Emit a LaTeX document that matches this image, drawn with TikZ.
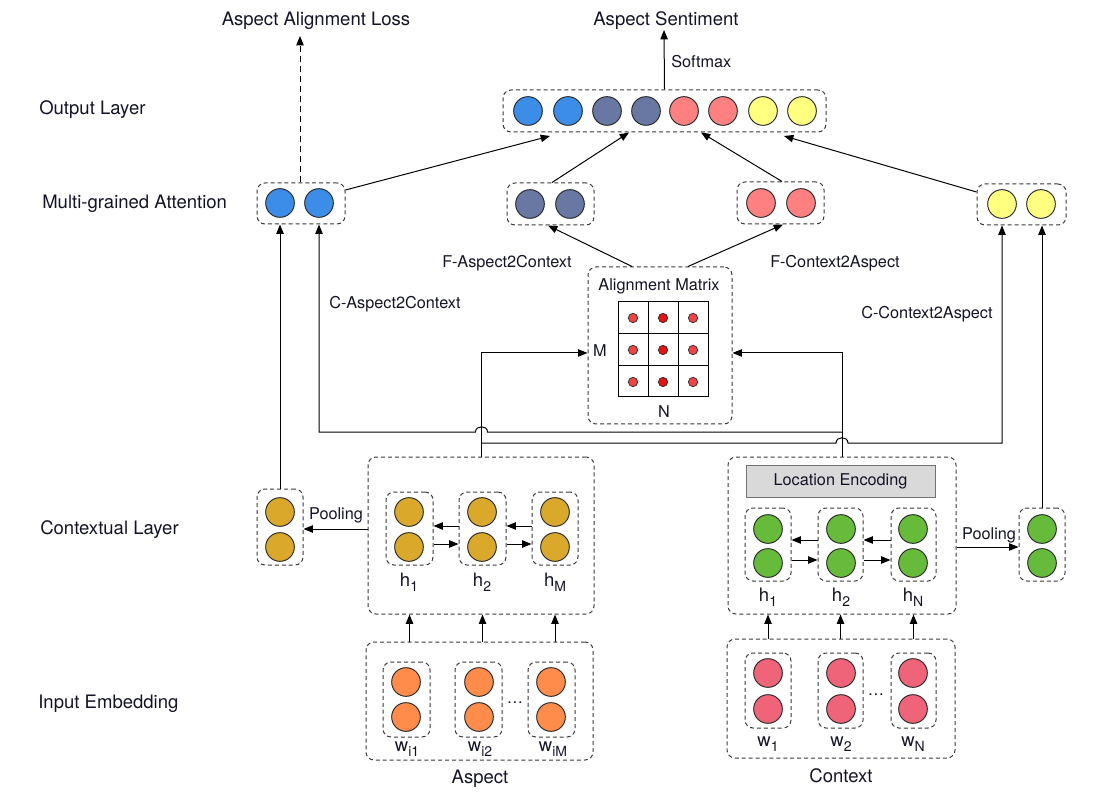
\documentclass[tikz,border=0pt]{standalone}
\usepackage{fontspec}
\setmainfont{TeX Gyre Heros}
\usetikzlibrary{arrows.meta,fit}
\definecolor{cblue}{HTML}{3B8DE8}
\definecolor{cslate}{HTML}{6878A2}
\definecolor{csalmon}{HTML}{FF8080}
\definecolor{cyellow}{HTML}{FFFF80}
\definecolor{cgold}{HTML}{DAA82A}
\definecolor{cgreen}{HTML}{67BB3A}
\definecolor{corange}{HTML}{FF8C4B}
\definecolor{cpink}{HTML}{F06479}
\definecolor{ctext}{HTML}{141428}
\definecolor{cdash}{HTML}{3A3A3A}
\definecolor{cdotA}{HTML}{F04444}
\definecolor{cdotB}{HTML}{E41414}
\newcommand{\mysub}[1]{\raisebox{-0.55ex}{\fontsize{10.5}{12}\selectfont #1}}
\begin{document}
\begin{tikzpicture}[x=0.75pt,y=-0.75pt,
  dbox/.style={draw=cdash, dash pattern=on 3pt off 2.2pt, rounded corners=6pt, line width=0.75pt, inner sep=0pt},
  cir/.style={circle, draw=black!85, line width=0.7pt, minimum size=21.5pt, inner sep=0pt},
  dot/.style={circle, draw=black!85, line width=0.5pt, minimum size=7pt, inner sep=0pt},
  arr/.style={-{Triangle[length=7pt,width=5.5pt]}, line width=0.75pt},
  big/.style={font=\fontsize{13.9}{16}\selectfont, text=ctext, inner sep=0pt},
  small/.style={font=\fontsize{12.2}{14}\selectfont, text=ctext, inner sep=0pt},
  locbox/.style={draw=black!55, fill=black!15, line width=0.75pt, inner sep=0pt,
    minimum width={189*0.75pt}, minimum height={32*0.75pt}, font=\fontsize{12.2}{14}\selectfont, text=ctext},
]
\useasboundingbox (0,0) rectangle (1102,812);

% ---------- row labels ----------
\node[big, anchor=west] (rowOut) at (39,110) {Output Layer};
\node[big, anchor=west] (rowAtt) at (42,204) {Multi-grained Attention};
\node[big, anchor=west] (rowCtx) at (40,530) {Contextual Layer};
\node[big, anchor=west] (rowInp) at (38,704) {Input Embedding};

% ---------- top labels ----------
\node[big] (lossL) at (316,21) {Aspect Alignment Loss};
\node[big] (sentL) at (666,21) {Aspect Sentiment};
\node[small, anchor=west] (softL) at (671,62) {Softmax};

% ---------- output layer ----------
\foreach \i/\x/\c in {1/528/cblue,2/568/cblue,3/607/cslate,4/646/cslate,5/684/csalmon,6/723/csalmon,7/763/cyellow,8/802/cyellow}
  \node[cir, fill=\c] (o\i) at (\x,111) {};
\node[dbox, fit={(503,90) (826,132)}] (out) {};

% ---------- multi-grained attention ----------
\node[cir, fill=cblue] (b1) at (280,203) {};
\node[cir, fill=cblue] (b2) at (319,203) {};
\node[dbox, fit={(257,183) (345,224)}] (attB) {};
\node[cir, fill=cslate] (s1) at (530,204) {};
\node[cir, fill=cslate] (s2) at (570,204) {};
\node[dbox, fit={(507,183) (594,225)}] (attS) {};
\node[cir, fill=csalmon] (r1) at (761,203) {};
\node[cir, fill=csalmon] (r2) at (801,203) {};
\node[dbox, fit={(737,182) (824,224)}] (attR) {};
\node[cir, fill=cyellow] (y1) at (1002,204) {};
\node[cir, fill=cyellow] (y2) at (1041,204) {};
\node[dbox, fit={(977,184) (1066,225)}] (attY) {};

% ---------- alignment matrix ----------
\node[dbox, fit={(588,267) (732,424)}] (mat) {};
\node[small] (matT) at (659,286) {Alignment Matrix};
\node[draw, line width=0.75pt, inner sep=0pt, fit={(618,302) (708,397)}] (grid) {};
\draw[line width=0.75pt] (648,302) -- (648,397) (678,302) -- (678,397)
  (618,334) -- (708,334) (618,366) -- (708,366);
\foreach \r/\y in {1/318,2/350,3/382}{
  \node[dot, fill=cdotA] (d\r1) at (633,\y) {};
  \node[dot, fill=cdotB] (d\r2) at (663,\y) {};
  \node[dot, fill=cdotA] (d\r3) at (693,\y) {};
}
\node[small] (mM) at (600,351) {M};
\node[small] (mN) at (664,412) {N};

% ---------- contextual layer: aspect ----------
\node[dbox, fit={(368,457) (594,614)}] (aspC) {};
\foreach \i/\x in {1/409,2/482,3/555}{
  \node[cir, fill=cgold] (ha\i u) at (\x,512) {};
  \node[cir, fill=cgold] (ha\i d) at (\x,547) {};
}
\node[dbox, fit={(386,492) (433,565)}] (hA1) {};
\node[dbox, fit={(459,492) (506,565)}] (hA2) {};
\node[dbox, fit={(532,492) (578,565)}] (hA3) {};
\node[big] (lhA1) at (409,582) {h\mysub{1}};
\node[big] (lhA2) at (482,582) {h\mysub{2}};
\node[big] (lhA3) at (555,582) {h\mysub{M}};
\draw[arr] (hA2.west |- 0,526) -- (hA1.east |- 0,526);
\draw[arr] (hA3.west |- 0,526) -- (hA2.east |- 0,526);
\draw[arr] (hA1.east |- 0,544) -- (hA2.west |- 0,544);
\draw[arr] (hA2.east |- 0,544) -- (hA3.west |- 0,544);
\node[cir, fill=cgold] (pa1) at (280,512) {};
\node[cir, fill=cgold] (pa2) at (280,547) {};
\node[dbox, fit={(257,489) (303,565)}] (poolA) {};
\draw[arr] (aspC.west |- 0,529) -- (poolA.east |- 0,529);
\node[small] (poolAL) at (336,515) {Pooling};

% ---------- contextual layer: context ----------
\node[dbox, fit={(728,457) (956,614)}] (ctxC) {};
\node[locbox] (loc) at (840.5,481) {Location Encoding};
\foreach \i/\x in {1/768,2/841,3/913}{
  \node[cir, fill=cgreen] (hc\i u) at (\x,529) {};
  \node[cir, fill=cgreen] (hc\i d) at (\x,563) {};
}
\node[dbox, fit={(745,508) (791,581)}] (hC1) {};
\node[dbox, fit={(818,508) (863,581)}] (hC2) {};
\node[dbox, fit={(891,508) (936,581)}] (hC3) {};
\node[big] (lhC1) at (768,597) {h\mysub{1}};
\node[big] (lhC2) at (841,597) {h\mysub{2}};
\node[big] (lhC3) at (913,597) {h\mysub{N}};
\draw[arr] (hC2.west |- 0,540) -- (hC1.east |- 0,540);
\draw[arr] (hC3.west |- 0,540) -- (hC2.east |- 0,540);
\draw[arr] (hC1.east |- 0,560) -- (hC2.west |- 0,560);
\draw[arr] (hC2.east |- 0,560) -- (hC3.west |- 0,560);
\node[cir, fill=cgreen] (pc1) at (1042,529) {};
\node[cir, fill=cgreen] (pc2) at (1042,563) {};
\node[dbox, fit={(1019,508) (1065,581)}] (poolC) {};
\draw[arr] (ctxC.east |- 0,547) -- (poolC.west |- 0,547);
\node[small] (poolCL) at (989,535) {Pooling};

% ---------- input embedding: aspect ----------
\node[dbox, fit={(366,642) (593,760)}] (aspI) {};
\foreach \i/\x in {1/406,2/479,3/551}{
  \node[cir, fill=corange] (wa\i u) at (\x,682) {};
  \node[cir, fill=corange] (wa\i d) at (\x,717) {};
}
\node[dbox, fit={(383,662) (430,737)}] (wA1) {};
\node[dbox, fit={(455,662) (502,737)}] (wA2) {};
\node[dbox, fit={(528,662) (575,737)}] (wA3) {};
\node[small, anchor=base] (dotsA) at (515,703) {\dots};
\node[big] (lwA1) at (407,749) {w\mysub{i1}};
\node[big] (lwA2) at (480,749) {w\mysub{i2}};
\node[big] (lwA3) at (553,749) {w\mysub{iM}};
\node[big] (aspL) at (480,779) {Aspect};
\draw[arr] (aspI.north -| hA1) -- (aspC.south -| hA1);
\draw[arr] (aspI.north -| hA2) -- (aspC.south -| hA2);
\draw[arr] (aspI.north -| hA3) -- (aspC.south -| hA3);

% ---------- input embedding: context ----------
\node[dbox, fit={(727,639) (955,758)}] (ctxI) {};
\foreach \i/\x in {1/768,2/841,3/913}{
  \node[cir, fill=cpink] (wc\i u) at (\x,673) {};
  \node[cir, fill=cpink] (wc\i d) at (\x,709) {};
}
\node[dbox, fit={(745,653) (791,728)}] (wC1) {};
\node[dbox, fit={(818,653) (863,728)}] (wC2) {};
\node[dbox, fit={(891,653) (936,728)}] (wC3) {};
\node[small, anchor=base] (dotsC) at (876,695) {\dots};
\node[big] (lwC1) at (768,744) {w\mysub{1}};
\node[big] (lwC2) at (841,744) {w\mysub{2}};
\node[big] (lwC3) at (913,744) {w\mysub{N}};
\node[big] (ctxL) at (841,776) {Context};
\draw[arr] (ctxI.north -| hC1) -- (ctxC.south -| hC1);
\draw[arr] (ctxI.north -| hC2) -- (ctxC.south -| hC2);
\draw[arr] (ctxI.north -| hC3) -- (ctxC.south -| hC3);

% ---------- upper connectors ----------
\draw[arr] (poolA.north) -- (attB.south -| poolA);
\draw[arr] (poolC.north) -- (attY.south -| poolC);
\draw[arr] (aspC.north) |- ([yshift=-5.6pt]mat.west);
\draw[arr] (ctxC.north) |- ([yshift=-5.6pt]mat.east);
% C-Aspect2Context
\draw[arr] (ctxC.north |- 0,432) -- (487.5,432) .. controls (487.5,425) and (475.5,425) .. (475.5,432)
  -- (b2 |- 0,432) -- (attB.south -| b2);
% C-Context2Aspect
\draw[arr] (aspC.north |- 0,443) -- (836,443) .. controls (836,436) and (848,436) .. (848,443)
  -- (y1 |- 0,443) -- (attY.south -| y1);
\node[small, anchor=west] (cA2C) at (329,304) {C-Aspect2Context};
\node[small, anchor=west] (cC2A) at (861,314) {C-Context2Aspect};

% F connectors
\draw[arr] (mat.north -| 632,0) -- (attS.south -| 548,0);
\draw[arr] (mat.north -| 688,0) -- (attR.south -| 783,0);
\node[small] (fA2C) at (507,263) {F-Aspect2Context};
\node[small] (fC2A) at (835,263) {F-Context2Aspect};

% to output
\draw[arr] (attB.east |- 0,190) -- (550,136);
\draw[arr] (attS.north -| 552,0) -- (out.south -| 629,0);
\draw[arr] (attR.north -| 782,0) -- (out.south -| 701,0);
\draw[arr] (attY.west |- 0,192) -- (784,136);
\draw[arr] (out.north) -- (664,30);
\draw[arr, dash pattern=on 4.5pt off 3pt] (attB.north -| 300,0) -- (300,36);
\end{tikzpicture}
\end{document}
